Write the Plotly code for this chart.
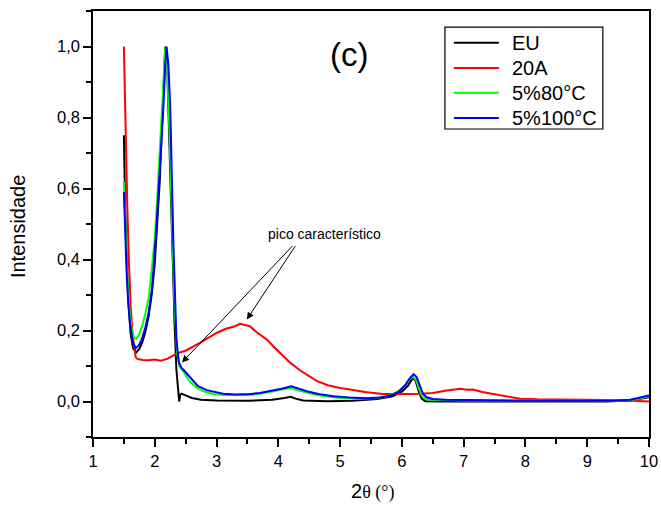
import plotly.graph_objects as go

# Diffractograms (normalised intensity vs 2-theta, degrees)
eu_x = [1.50, 1.52, 1.55, 1.58, 1.61, 1.65, 1.70, 1.75, 1.80, 1.85, 1.90, 1.95, 2.00, 2.04, 2.08,
        2.12, 2.15, 2.17, 2.20, 2.24, 2.28, 2.32, 2.35, 2.38, 2.395, 2.41, 2.43, 2.46, 2.52, 2.60,
        2.75, 3.00, 3.50, 3.90, 4.10, 4.20, 4.28, 4.40, 4.80, 5.20, 5.60, 5.85, 6.00, 6.10, 6.17,
        6.22, 6.27, 6.32, 6.38, 6.60, 7.50, 8.50, 9.30, 9.70, 9.90, 10.00]
eu_y = [0.75, 0.55, 0.38, 0.26, 0.19, 0.15, 0.138, 0.148, 0.168, 0.198, 0.24, 0.30, 0.39, 0.49, 0.62,
        0.79, 0.93, 1.00, 0.95, 0.70, 0.45, 0.22, 0.09, 0.012, 0.0, 0.018, 0.022, 0.02, 0.015, 0.010,
        0.005, 0.003, 0.002, 0.005, 0.010, 0.013, 0.008, 0.003, 0.001, 0.002, 0.007, 0.015, 0.028, 0.045, 0.065,
        0.060, 0.030, 0.008, 0.001, 0.0, 0.0, 0.0, 0.0, 0.003, 0.008, 0.012]

a20_x = [1.50, 1.52, 1.555, 1.58, 1.61, 1.64, 1.67, 1.69, 1.72, 1.80, 1.90, 2.00, 2.10, 2.20, 2.30,
         2.40, 2.50, 2.60, 2.73, 2.85, 3.00, 3.15, 3.30, 3.38, 3.45, 3.54, 3.65, 3.81, 3.95, 4.08,
         4.20, 4.35, 4.50, 4.62, 4.80, 5.00, 5.16, 5.40, 5.69, 5.90, 6.10, 6.30, 6.50, 6.70, 6.85,
         6.94, 7.05, 7.15, 7.30, 7.45, 7.59, 7.75, 7.91, 8.20, 8.56, 9.00, 9.30, 9.64, 9.85, 10.00]
a20_y = [1.00, 0.80, 0.55, 0.40, 0.268, 0.19, 0.14, 0.125, 0.12, 0.117, 0.116, 0.118, 0.115, 0.12, 0.13,
         0.138, 0.143, 0.152, 0.165, 0.178, 0.193, 0.205, 0.212, 0.219, 0.215, 0.212, 0.195, 0.175, 0.15, 0.128,
         0.108, 0.088, 0.07, 0.058, 0.046, 0.038, 0.034, 0.027, 0.021, 0.020, 0.021, 0.022, 0.024, 0.030, 0.034,
         0.036, 0.033, 0.034, 0.027, 0.022, 0.017, 0.012, 0.008, 0.006, 0.006, 0.005, 0.004, 0.003, 0.002, 0.0]

p80_x = [1.50, 1.52, 1.55, 1.58, 1.62, 1.66, 1.70, 1.75, 1.80, 1.85, 1.90, 1.95, 2.00, 2.04, 2.08,
         2.12, 2.15, 2.17, 2.20, 2.24, 2.28, 2.32, 2.36, 2.40, 2.45, 2.50, 2.55, 2.62, 2.70, 2.80,
         2.95, 3.10, 3.30, 3.50, 3.70, 3.90, 4.10, 4.20, 4.30, 4.45, 4.60, 4.80, 5.00, 5.30, 5.60,
         5.80, 5.95, 6.05, 6.12, 6.18, 6.23, 6.28, 6.33, 6.40, 6.60, 7.00, 8.00, 9.00, 9.50, 9.80, 10.00]
p80_y = [0.62, 0.50, 0.37, 0.28, 0.21, 0.18, 0.176, 0.19, 0.215, 0.25, 0.29, 0.37, 0.46, 0.57, 0.70,
         0.86, 0.96, 1.00, 0.94, 0.75, 0.50, 0.27, 0.14, 0.10, 0.088, 0.075, 0.06, 0.048, 0.036, 0.028,
         0.021, 0.018, 0.017, 0.018, 0.022, 0.028, 0.034, 0.038, 0.032, 0.026, 0.019, 0.014, 0.010, 0.008, 0.010,
         0.016, 0.030, 0.045, 0.062, 0.070, 0.060, 0.035, 0.014, 0.006, 0.004, 0.003, 0.002, 0.001, 0.002, 0.006, 0.015]

p100_x = [1.50, 1.52, 1.545, 1.57, 1.60, 1.64, 1.69, 1.74, 1.79, 1.85, 1.90, 1.95, 1.975, 2.03, 2.08,
          2.14, 2.17, 2.19, 2.22, 2.25, 2.30, 2.35, 2.39, 2.43, 2.47, 2.52, 2.57, 2.62, 2.70, 2.84,
          3.00, 3.11, 3.30, 3.54, 3.70, 3.86, 4.05, 4.21, 4.30, 4.46, 4.65, 4.89, 5.15, 5.43, 5.65,
          5.81, 5.95, 6.05, 6.13, 6.19, 6.24, 6.29, 6.34, 6.40, 6.50, 6.70, 7.00, 7.50, 8.00, 8.50,
          9.00, 9.40, 9.70, 9.90, 10.00]
p100_y = [0.59, 0.47, 0.36, 0.28, 0.22, 0.17, 0.15, 0.158, 0.175, 0.21, 0.25, 0.31, 0.36, 0.50, 0.644,
          0.832, 0.95, 1.00, 0.95, 0.83, 0.456, 0.175, 0.11, 0.095, 0.088, 0.078, 0.066, 0.057, 0.043, 0.032,
          0.025, 0.022, 0.020, 0.021, 0.024, 0.029, 0.036, 0.043, 0.038, 0.029, 0.021, 0.015, 0.011, 0.009, 0.011,
          0.016, 0.028, 0.045, 0.066, 0.077, 0.068, 0.045, 0.022, 0.012, 0.007, 0.005, 0.004, 0.003, 0.002, 0.002,
          0.001, 0.002, 0.005, 0.012, 0.017]

series_names = ["EU", "20A", "5%80°C", "5%100°C"]
series_colors = ["#000000", "#ff0000", "#00ff00", "#0000ff"]
series_x = [eu_x, a20_x, p80_x, p100_x]
series_y = [eu_y, a20_y, p80_y, p100_y]

x_ticks = [1, 2, 3, 4, 5, 6, 7, 8, 9, 10]
y_ticks = [0.0, 0.2, 0.4, 0.6, 0.8, 1.0]

FONT = "Liberation Sans, Arial, sans-serif"
SERIF = "Liberation Serif, Times New Roman, serif"

fig = go.Figure()
for name, color, xs, ys in zip(series_names, series_colors, series_x, series_y):
    fig.add_trace(go.Scatter(x=xs, y=ys, mode="lines", name=name,
                             line=dict(color=color, width=2), showlegend=False))

axis_common = dict(showline=True, linecolor="black", linewidth=1.5, mirror=True,
                   ticks="outside", ticklen=8, tickwidth=1.5, tickcolor="black",
                   showgrid=False, zeroline=False, automargin=False,
                   tickfont=dict(family=FONT, size=16.5, color="black"))

fig.update_xaxes(range=[1, 10], tickvals=x_ticks, ticktext=[str(v) for v in x_ticks],
                 minor=dict(dtick=0.5, ticks="outside", ticklen=5, tickwidth=1.5, tickcolor="black"),
                 **axis_common)
fig.update_yaxes(range=[-0.1, 1.1], tickvals=y_ticks, tickformat=".1f",
                 minor=dict(dtick=0.1, tick0=0, ticks="outside", ticklen=5, tickwidth=1.5, tickcolor="black"),
                 **axis_common)

annotations = []
# Axis titles
annotations.append(dict(xref="paper", yref="paper", x=-0.135, y=0.495, textangle=-90,
                        xanchor="center", yanchor="middle",
                        text="Intensidade", showarrow=False,
                        font=dict(family=FONT, size=20, color="black")))
annotations.append(dict(xref="paper", yref="paper", x=0.502, y=-0.127,
                        xanchor="center", yanchor="middle",
                        text=f"2<span style='font-family:{SERIF};font-size:18px'>θ (°)</span>",
                        showarrow=False, font=dict(family=FONT, size=20, color="black")))
# Panel label
annotations.append(dict(xref="paper", yref="paper", x=0.461, y=0.899, text="(c)", showarrow=False,
                        xanchor="center", yanchor="middle",
                        font=dict(family=FONT, size=33, color="black")))
# Peak callout
annotations.append(dict(xref="x", yref="y", x=4.74, y=0.473, text="pico característico",
                        xanchor="center", yanchor="middle",
                        showarrow=False, font=dict(family=FONT, size=14, color="black")))
for hx, hy, tx in [(2.44, 0.11, 4.25), (3.49, 0.231, 4.29)]:
    annotations.append(dict(xref="x", yref="y", axref="x", ayref="y", x=hx, y=hy, ax=tx, ay=0.442,
                            text="", showarrow=True, arrowhead=2, arrowsize=1.4, arrowwidth=1,
                            arrowcolor="black"))

# Legend drawn as box + line samples + labels
shapes = [dict(type="rect", xref="paper", yref="paper", x0=0.633, x1=0.917, y0=0.723, y1=0.962,
               line=dict(color="black", width=1.2), fillcolor="white", layer="above")]
row_y = [0.9256, 0.8662, 0.8082, 0.7488]
for name, color, ry in zip(series_names, series_colors, row_y):
    shapes.append(dict(type="line", xref="paper", yref="paper", x0=0.649, x1=0.730, y0=ry, y1=ry,
                       line=dict(color=color, width=2), layer="above"))
    annotations.append(dict(xref="paper", yref="paper", x=0.750, y=ry, xanchor="left", yanchor="middle",
                            text=name, showarrow=False, font=dict(family=FONT, size=20, color="black")))

fig.update_layout(width=661, height=505, margin=dict(l=93, r=12, t=11, b=68, autoexpand=False),
                  paper_bgcolor="white", plot_bgcolor="white", separators=",.",
                  font=dict(family=FONT, color="black"),
                  annotations=annotations, shapes=shapes)

fig.write_html("out.html")
